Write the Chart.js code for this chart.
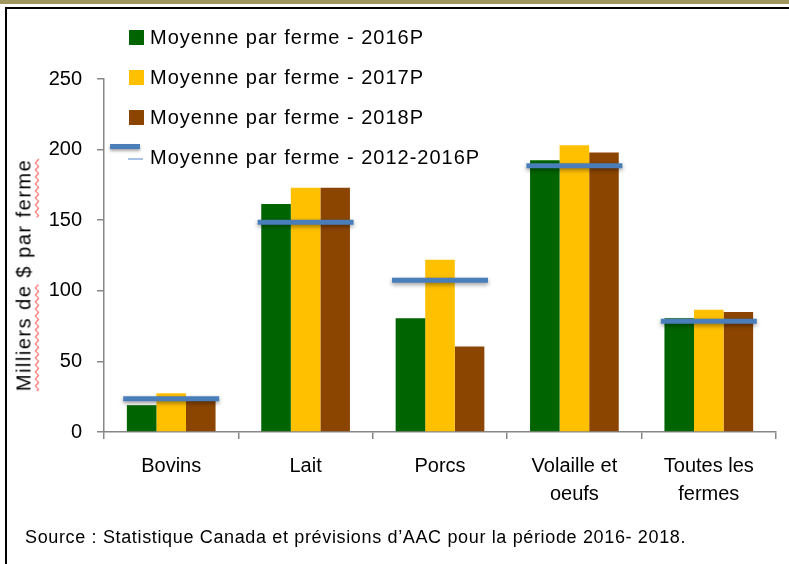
<!DOCTYPE html>
<html>
<head>
<meta charset="utf-8">
<script src="https://cdn.jsdelivr.net/npm/chart.js@4.4.1/dist/chart.umd.min.js"></script>
<style>
    body { margin: 0; background: #fff; }
    #wrap { position: relative; width: 789px; height: 564px; overflow: hidden; background: #fff;
            font-family: "Liberation Sans", Arial, sans-serif; color: #000; }
    #farmChart { position: absolute; left: 0; top: 0; }
    .strip { position: absolute; left: 0; top: 0; width: 789px; height: 4px; background: #a0965f; }
    .frameTop { position: absolute; left: 5px; top: 7px; width: 784px; height: 2px; background: #000; }
    .frameLeft { position: absolute; left: 5px; top: 7px; width: 2px; height: 557px; background: #000; }
    #legend { position: absolute; left: 0; top: 0; }
    .row { position: absolute; left: 150px; font-size: 20px; line-height: 20px; letter-spacing: 1px; white-space: nowrap; }
    .box { position: absolute; left: 129px; width: 15px; height: 15px; }
    .dash { position: absolute; left: 110px; width: 30px; height: 5px; background: #4a7ebb;
            box-shadow: 0 2px 3px rgba(0,0,0,0.35); }
    .dash2 { position: absolute; left: 128px; width: 15px; height: 2px; background: #a9c1e3; }
    #yTitle { position: absolute; left: 24px; top: 275px; transform: translate(-50%, -50%) rotate(-90deg);
              font-size: 20px; letter-spacing: 1.5px; white-space: nowrap; }
    .sp { text-decoration: underline wavy red; text-decoration-thickness: 1px; text-underline-offset: 4px; }
    #source { position: absolute; left: 25px; top: 527px; font-size: 18px; letter-spacing: 0.65px; white-space: nowrap; }
</style>
</head>
<body>
<div id="wrap">
    <div class="strip"></div>
    <div class="frameTop"></div>
    <div class="frameLeft"></div>
    <canvas id="farmChart" width="789" height="564"></canvas>
    <div id="legend"></div>
    <div id="yTitle"><span class="sp">Milliers de</span> $ par <span class="sp">ferme</span></div>
    <div id="source">Source : Statistique Canada et prévisions d’AAC pour la période 2016- 2018.</div>
</div>
<script>
// data (milliers de $ par ferme)
const categories = ["Bovins", "Lait", "Porcs", ["Volaille et", "oeufs"], ["Toutes les", "fermes"]];
const seriesLabels = [
    "Moyenne par ferme - 2016P",
    "Moyenne par ferme - 2017P",
    "Moyenne par ferme - 2018P",
    "Moyenne par ferme - 2012-2016P",
];
const avg2016 = [19, 161.5, 80.5, 192.5, 80.5];
const avg2017 = [27.5, 173, 122, 203, 86.5];
const avg2018 = [22.5, 173, 60.5, 198, 85];
const avg2012to2016 = [23.5, 148.5, 107.5, 188.5, 78.5];
const yTicks = [0, 50, 100, 150, 200, 250];

const barColors = ["#006400", "#ffc000", "#8b4500"];
const lineColor = "#4a7ebb";
const axisColor = "#878787";
const tickFont = { family: "'Liberation Sans', Arial, sans-serif", size: 20, lineHeight: 1.4 };

document.addEventListener("DOMContentLoaded", function () {
    // html legend, same order as the datasets
    const legend = document.getElementById("legend");
    seriesLabels.forEach(function (label, i) {
        const top = 27 + i * 40;
        if (i < 3) {
            const box = document.createElement("div");
            box.className = "box";
            box.style.top = (top + 3) + "px";
            box.style.background = barColors[i];
            legend.appendChild(box);
        } else {
            const dash = document.createElement("div");
            dash.className = "dash";
            dash.style.top = (top - 3) + "px";
            legend.appendChild(dash);
            const dash2 = document.createElement("div");
            dash2.className = "dash2";
            dash2.style.top = (top + 11) + "px";
            legend.appendChild(dash2);
        }
        const row = document.createElement("div");
        row.className = "row";
        row.style.top = top + "px";
        row.textContent = label;
        legend.appendChild(row);
    });

    // soft shadow under the 2012-2016 average markers
    const lineShadow = {
        id: "lineShadow",
        beforeDatasetDraw(chart, args) {
            if (args.index === 3) {
                const c = chart.ctx;
                c.save();
                c.shadowColor = "rgba(0,0,0,0.4)";
                c.shadowBlur = 4;
                c.shadowOffsetY = 2;
            }
        },
        afterDatasetDraw(chart, args) {
            if (args.index === 3) chart.ctx.restore();
        },
    };

    const ctx = document.getElementById("farmChart");
    new Chart(ctx, {
        type: "bar",
        data: {
            labels: categories,
            datasets: [
                { label: seriesLabels[0], data: avg2016, backgroundColor: barColors[0] },
                { label: seriesLabels[1], data: avg2017, backgroundColor: barColors[1] },
                { label: seriesLabels[2], data: avg2018, backgroundColor: barColors[2] },
                {
                    type: "line",
                    label: seriesLabels[3],
                    data: avg2012to2016,
                    showLine: false,
                    pointStyle: "line",
                    pointRadius: 48,
                    pointHoverRadius: 48,
                    pointBorderWidth: 5,
                    pointBorderColor: lineColor,
                    borderColor: lineColor,
                    clip: false,
                    order: -1,
                },
            ],
        },
        options: {
            responsive: false,
            animation: false,
            categoryPercentage: 0.66,
            barPercentage: 1,
            layout: { autoPadding: false, padding: { top: 79, right: 13, left: 0, bottom: 0 } },
            plugins: { legend: { display: false }, tooltip: { enabled: false } },
            scales: {
                x: {
                    grid: { drawOnChartArea: false, tickLength: 7, color: axisColor, lineWidth: 1.5 },
                    border: { color: axisColor, width: 1.5 },
                    ticks: { font: tickFont, color: "#000", padding: 13, maxRotation: 0, autoSkip: false },
                    afterFit: function (s) {
                        s.height = 132;
                        s.paddingLeft = 0;
                        s.paddingRight = 0;
                    },
                },
                y: {
                    min: yTicks[0],
                    max: yTicks[yTicks.length - 1],
                    afterBuildTicks: function (s) { s.ticks = yTicks.map(function (v) { return { value: v }; }); },
                    grid: { drawOnChartArea: false, tickLength: 7, color: axisColor, lineWidth: 1.5 },
                    border: { color: axisColor, width: 1.5 },
                    ticks: { font: { family: tickFont.family, size: 20 }, color: "#000", padding: 15 },
                    afterFit: function (s) { s.width = 104; },
                },
            },
        },
        plugins: [lineShadow],
    });
});
</script>
</body>
</html>
